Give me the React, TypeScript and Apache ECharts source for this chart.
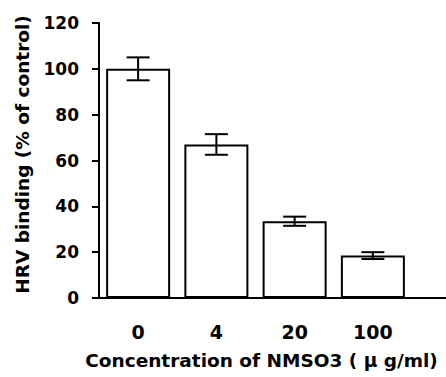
import React, { useEffect, useRef } from "react";
import * as echarts from "echarts";

const categories = ["0", "4", "20", "100"];
const values = [100, 67, 33.5, 18.5];
const errors = [5, 4.5, 2, 1.5];
const yTicks = { min: 0, max: 120, interval: 20 };

const FONT = "'DejaVu Sans', sans-serif";

export default function App() {
  const ref = useRef<HTMLDivElement>(null);
  useEffect(() => {
    if (!ref.current) return;
    const chart = echarts.init(ref.current, undefined, { renderer: "svg" });
    chart.setOption({
      animation: false,
      backgroundColor: "#fff",
      grid: { left: 99, top: 23, width: 313, height: 275 },
      xAxis: {
        type: "category",
        data: categories,
        name: "Concentration of NMSO3 ( μ g/ml)",
        nameLocation: "middle",
        nameGap: 53,
        nameTextStyle: { fontFamily: FONT, fontWeight: "bold", fontSize: 18.5, color: "#000", align: "center", padding: [0, 0, 0, 12] },
        axisLine: { lineStyle: { color: "#000", width: 2 } },
        axisTick: { show: false },
        axisLabel: { fontFamily: FONT, fontWeight: "bold", fontSize: 19, color: "#000", margin: 24 },
      },
      yAxis: {
        type: "value",
        min: yTicks.min,
        max: yTicks.max,
        interval: yTicks.interval,
        name: "HRV binding (% of control)",
        nameLocation: "middle",
        nameGap: 67,
        nameTextStyle: { fontFamily: FONT, fontWeight: "bold", fontSize: 18.5, color: "#000", padding: [0, 0, 0, 12] },
        axisLine: { show: true, lineStyle: { color: "#000", width: 2 } },
        axisTick: { show: true, length: 7, lineStyle: { color: "#000", width: 2 } },
        axisLabel: { fontFamily: FONT, fontWeight: "bold", fontSize: 17, color: "#000", margin: 20 },
        splitLine: { show: false },
      },
      graphic: [
        {
          type: "line",
          shape: { x1: 411, y1: 298, x2: 446, y2: 298 },
          style: { stroke: "#000", lineWidth: 2 },
        },
      ],
      series: [
        {
          type: "bar",
          data: values,
          barWidth: 64,
          itemStyle: { color: "#fff", borderColor: "#000", borderWidth: 2 },
          z: 2,
        },
        {
          type: "custom",
          data: values.map((v, i) => [i, v - errors[i], v + errors[i]]),
          z: 3,
          renderItem: (params: any, api: any) => {
            const x = api.value(0);
            const lo = api.coord([x, api.value(1)]);
            const hi = api.coord([x, api.value(2)]);
            const hw = 11.5;
            const st = { stroke: "#000", lineWidth: 2, fill: "none" };
            return {
              type: "group",
              children: [
                { type: "line", shape: { x1: lo[0], y1: lo[1], x2: hi[0], y2: hi[1] }, style: st },
                { type: "line", shape: { x1: lo[0] - hw, y1: lo[1], x2: lo[0] + hw, y2: lo[1] }, style: st },
                { type: "line", shape: { x1: hi[0] - hw, y1: hi[1], x2: hi[0] + hw, y2: hi[1] }, style: st },
              ],
            };
          },
        },
      ],
    });
    return () => chart.dispose();
  }, []);
  return <div ref={ref} style={{ width: 446, height: 377, position: "absolute", left: 0, top: 0 }} />;
}
